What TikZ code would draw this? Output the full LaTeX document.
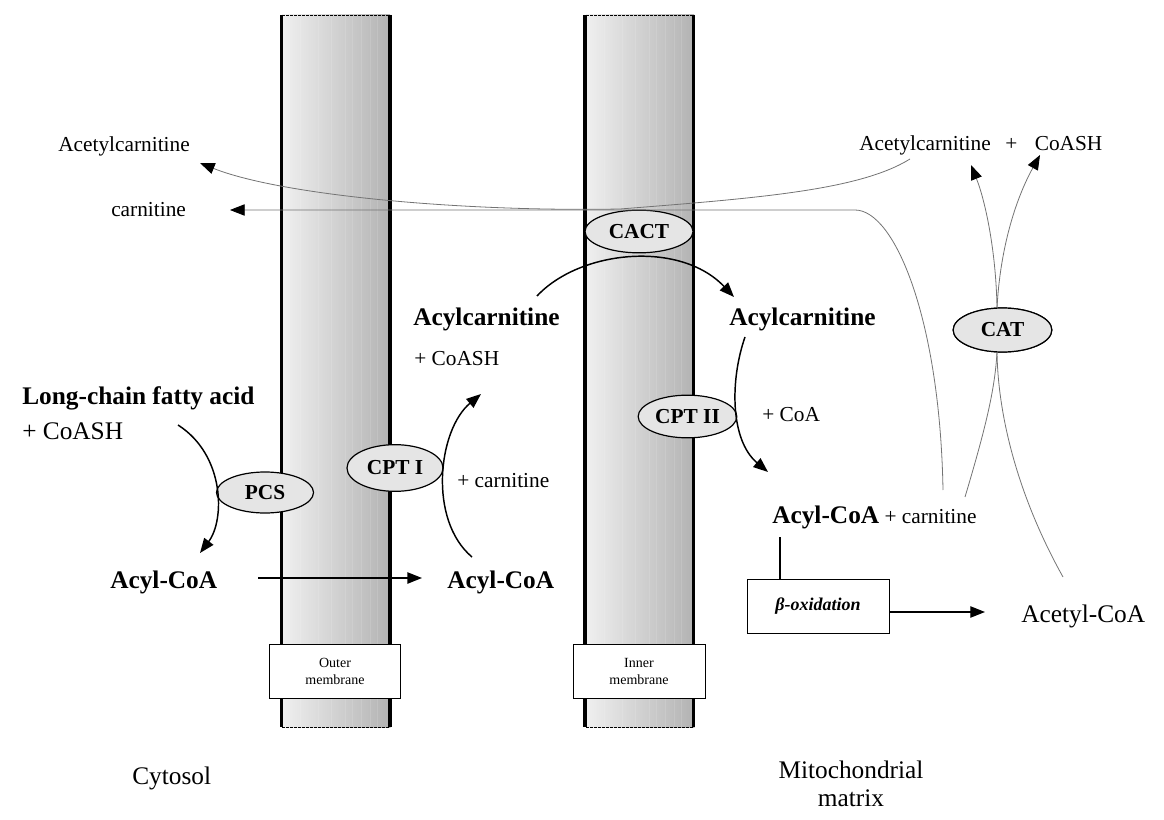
\documentclass[tikz,border=0pt]{standalone}
\usepackage{fontspec}
\setmainfont{Liberation Serif}
\usetikzlibrary{arrows.meta,shapes.geometric}
\begin{document}
\begin{tikzpicture}[x=0.75pt,y=-0.75pt,
  tipped/.style={-{Triangle[length=11pt,width=8.5pt,black]}},
  boldarrow/.style={tipped, line width=1.1pt, black},
  finearrow/.style={tipped, line width=0.6pt, black!55},
  fineline/.style={line width=0.6pt, black!55},
  rtxt/.style={inner sep=0pt, anchor=base west, font=\fontsize{16}{19}\selectfont},
  ltxt/.style={inner sep=0pt, anchor=base west, font=\fontsize{19}{22}\selectfont},
  btxt/.style={inner sep=0pt, anchor=base west, font=\fontsize{19}{22}\selectfont\bfseries},
  enzyme/.style={ellipse, draw, fill=gray!20, line width=0.9pt, inner sep=0pt,
    font=\fontsize{16}{19}\selectfont\bfseries},
  mbox/.style={draw, fill=white, line width=0.6pt, align=center, inner sep=0pt,
    minimum width=98pt, minimum height=41pt, font=\fontsize{10.5}{13}\selectfont},
  membraneedge/.style={line width=2.6pt, black},
  membranetop/.style={line width=0.6pt, black, dash pattern=on 2pt off 1pt}
]
\useasboundingbox (0,0) rectangle (1164,820);

% ---------- membranes ----------
\shade[left color=gray!12, right color=gray!60] (282,15) rectangle (390,727);
\shade[left color=gray!12, right color=gray!60] (586,15) rectangle (694,727);
\foreach \x in {300,318,331,345,352,361,370,377}{
  \draw[white, opacity=0.12, line width=0.5pt] (\x,15) -- (\x,727);}
\foreach \x in {604,622,635,649,656,665,674,681}{
  \draw[white, opacity=0.12, line width=0.5pt] (\x,15) -- (\x,727);}
\draw[membraneedge] (281.7,15) -- (281.7,727);
\draw[membraneedge] (389.8,15) -- (389.8,727);
\draw[membraneedge] (585.2,15) -- (585.2,727);
\draw[membraneedge] (693.5,15) -- (693.5,727);
\draw[membranetop] (282,15) -- (390,15);
\draw[membranetop] (282,727) -- (390,727);
\draw[membranetop] (586,15) -- (694,15);
\draw[membranetop] (586,727) -- (694,727);

\node[mbox] (outerbox) at (335,671.5) {Outer\\membrane};
\node[mbox, minimum width=99pt] (innerbox) at (639,671.5) {Inner\\membrane};

% ---------- texts ----------
\node[rtxt] (acL) at (58,151.7) {Acetylcarnitine};
\node[rtxt] (carL) at (111,216.7) {carnitine};
\node[rtxt] (acR) at (859,150.7) {Acetylcarnitine\hspace{11pt}+\hspace{13pt}CoASH};
\node[btxt] (acylcarL) at (413,325) {Acylcarnitine};
\node[rtxt] (coashM) at (414,365.7) {+ CoASH};
\node[btxt] (lcfa) at (22,404) {Long-chain fatty acid};
\node[ltxt] (coashL) at (22,439) {+ CoASH};
\node[rtxt] (carM) at (457,487.3) {+ carnitine};
\node[btxt] (acylL) at (110,588) {Acyl-CoA};
\node[btxt] (acylM) at (447,588.3) {Acyl-CoA};
\node[btxt] (acylcarR) at (729,325) {Acylcarnitine};
\node[rtxt] (coaR) at (762,421.7) {+ CoA};
\node[inner sep=0pt, anchor=base west] (acylR) at (772,523.3)
  {{\fontsize{19}{22}\selectfont\bfseries Acyl-CoA}{\fontsize{16}{19}\selectfont{} + carnitine}};
\node[ltxt] (acetylcoa) at (1021,622) {Acetyl-CoA};
\node[ltxt] (cyto) at (132,784) {Cytosol};
\node[inner sep=0pt, anchor=base, font=\fontsize{19}{22}\selectfont] (mito1) at (851,778) {Mitochondrial};
\node[inner sep=0pt, anchor=base, font=\fontsize{19}{22}\selectfont] (mito2) at (851,806) {matrix};

\node[draw, line width=0.7pt, fill=white, minimum width=106.5pt, minimum height=40.5pt,
  inner sep=0pt, font=\fontsize{13.5}{16}\selectfont\bfseries\itshape] (beta) at (818,606) {β-oxidation};

% ---------- enzymes ----------
\node[enzyme, minimum width=72.75pt, minimum height=30.75pt] (PCS) at (265,492.5) {PCS};
\node[enzyme, minimum width=72pt, minimum height=35pt] (CPTI) at (395,468) {CPT I};
\node[enzyme, minimum width=81pt, minimum height=32pt] (CACT) at (639,231.5) {CACT};
\node[enzyme, minimum width=74pt, minimum height=32pt] (CPTII) at (687.5,416.5) {CPT II};
\node[enzyme, minimum width=74pt, minimum height=33pt] (CAT) at (1002.5,330) {CAT};

% ---------- coordinates ----------
\coordinate (pcsA) at (178,425);
\coordinate (pcsB) at (200,553);
\coordinate (acylLe) at (258,578);
\coordinate (acylMw) at (422,578);
\coordinate (cptA) at (472,557);
\coordinate (cptB) at (481,394);
\coordinate (cactA) at (537,296);
\coordinate (cactB) at (734,297);
\coordinate (cpt2A) at (745,337);
\coordinate (cpt2B) at (768,472);
\coordinate (acylRdown) at (780,537);
\coordinate (betaTop) at (780,579);
\coordinate (betaOut) at (889,612);
\coordinate (acetylIn) at (985,612);
\coordinate (carStart) at (943,490);
\coordinate (carCorner) at (855,210);
\coordinate (carTip) at (230,210);
\coordinate (acStart) at (910,159);
\coordinate (acMid) at (620,209);
\coordinate (acTip) at (200,163);
\coordinate (catS) at (997,352);
\coordinate (catN) at (997,308);
\coordinate (fromAcetyl) at (1063,577);
\coordinate (fromCarn) at (965,497);
\coordinate (toAcR) at (971,165);
\coordinate (toCoash) at (1040,155);

% ---------- connectors ----------
\draw[boldarrow] (pcsA) .. controls (225,455) and (225,520) .. (pcsB);
\draw[boldarrow] (acylLe) -- (acylMw);
\draw[boldarrow] (cptA) .. controls (428,520) and (438,430) .. (cptB);
\draw[boldarrow] (cactA) .. controls (580,250) and (680,240) .. (cactB);
\draw[boldarrow] (cpt2A) .. controls (730,380) and (730,440) .. (cpt2B);
\draw[line width=0.8pt] (acylRdown) -- (betaTop);
\draw[boldarrow, line width=0.9pt] (betaOut) -- (acetylIn);

\draw[finearrow] (carStart) .. controls (940,320) and (895,210) .. (carCorner) -- (carTip);
\draw[finearrow] (acStart) .. controls (860,190) and (760,198) .. (acMid)
  .. controls (460,212) and (280,195) .. (acTip);
\draw[fineline] (fromAcetyl) .. controls (1020,500) and (998,420) .. (catS);
\draw[fineline] (fromCarn) .. controls (985,430) and (995,390) .. (catS);
\draw[finearrow] (catN) .. controls (996,250) and (985,200) .. (toAcR);
\draw[finearrow] (catN) .. controls (1000,250) and (1015,200) .. (toCoash);

% redraw CAT over its lines
\node[enzyme, minimum width=74pt, minimum height=33pt] at (CAT) {CAT};
\end{tikzpicture}
\end{document}
